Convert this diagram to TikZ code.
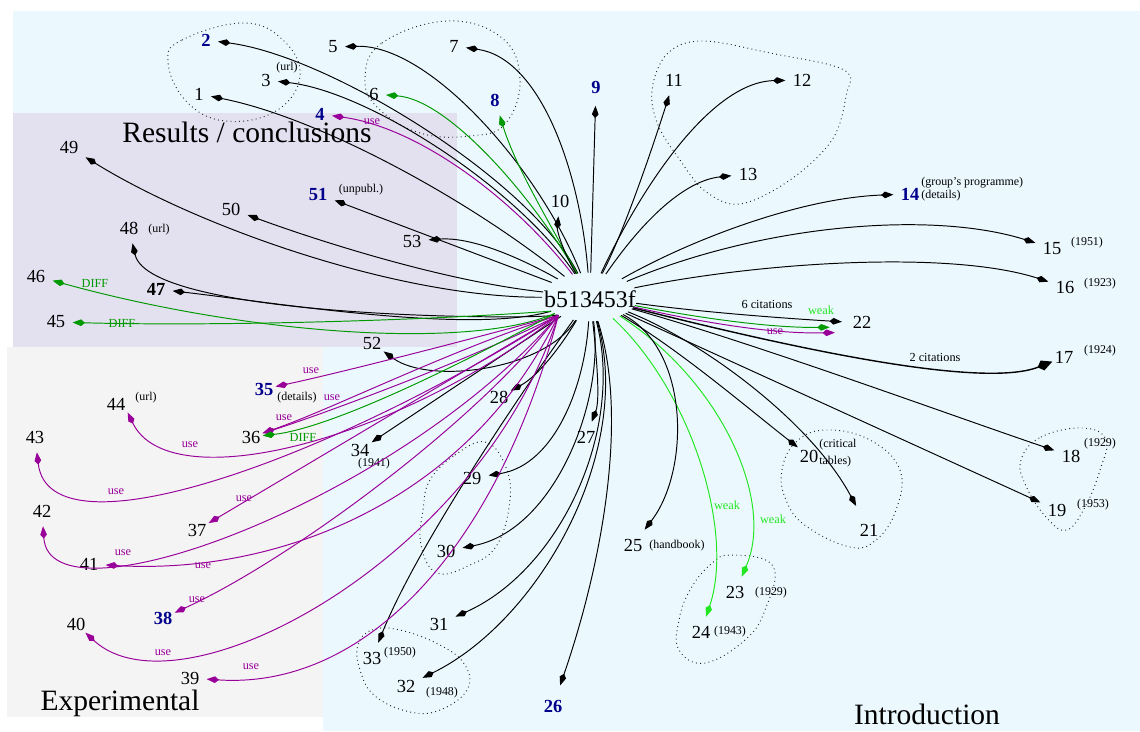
\documentclass[tikz,border=0pt]{standalone}
\usepackage{fontspec}
\setmainfont{Liberation Serif}
\usetikzlibrary{arrows.meta,shapes.geometric}
\definecolor{bgcyan}{HTML}{EBF9FF}
\definecolor{bglav}{HTML}{E3E0F0}
\definecolor{bggray}{HTML}{F4F4F4}
\definecolor{keyblue}{HTML}{00008B}
\definecolor{usepurple}{HTML}{990099}
\definecolor{diffgreen}{HTML}{009A00}
\definecolor{weakgreen}{HTML}{22E622}
\tikzset{
  num/.style={font=\fontsize{10.5}{12}\selectfont, inner xsep=4pt, inner ysep=5pt},
  key/.style={num, font=\fontsize{10.5}{12}\selectfont\bfseries, text=keyblue},
  tight/.style={inner sep=1.2pt},
  note/.style={font=\fontsize{6.8}{8}\selectfont, inner sep=0pt},
  elab/.style={font=\fontsize{7}{8}\selectfont, inner sep=0pt},
  regiontitle/.style={font=\fontsize{16.8}{20}\selectfont, inner sep=0pt},
  cluster/.style={draw=black!85, line width=0.55pt, dash pattern=on 0.5pt off 1.9pt},
  edge/.style={line width=0.55pt, -{Kite[length=7pt,width=3.8pt,inset=2.2pt]}},
  eblack/.style={edge, draw=black},
  euse/.style={edge, draw=usepurple},
  ediff/.style={edge, draw=diffgreen},
  eweak/.style={edge, draw=weakgreen},
}
\begin{document}
\begin{tikzpicture}[x=0.02cm, y=-0.02cm]
\useasboundingbox (0,0) rectangle (1140,731);

% cluster backgrounds
\fill[bgcyan] (13,11) -- (1140,11) -- (1140,731) -- (323,731) -- (323,347) -- (13,347) -- cycle;
\fill[bglav] (13,113) rectangle (457,347);
\fill[bggray] (7,347) rectangle (323,717);

% region titles
\node[regiontitle] (tres) at (247,132) {Results / conclusions};
\node[regiontitle] (texp) at (120,703) {Experimental};
\node[regiontitle] (tintro) at (927,714) {Introduction};

% dotted groupings
\draw[cluster] plot[smooth cycle, tension=0.7] coordinates {(168,62) (182,40) (243,23) (283,40) (300,76) (276,111) (225,121) (186,101)};
\draw[cluster] plot[smooth cycle, tension=0.7] coordinates {(365,78) (382,43) (447,21) (502,38) (520,80) (505,124) (470,136) (420,133) (378,108)};
\draw[cluster] plot[smooth cycle, tension=0.6] coordinates {(652,90) (667,54) (702,41) (770,53) (844,70) (846,96) (832,140) (790,180) (740,204) (705,191) (680,160) (658,125)};
\draw[cluster] plot[smooth cycle, tension=0.7] coordinates {(782,470) (796,442) (826,430) (870,440) (900,470) (896,510) (876,540) (850,547) (806,526) (786,500)};
\draw[cluster] plot[smooth cycle, tension=0.7] coordinates {(1021,460) (1041,437) (1083,428) (1106,440) (1100,470) (1086,505) (1067,530) (1046,517) (1026,486)};
\draw[cluster] plot[smooth cycle, tension=0.7] coordinates {(690,590) (710,565) (731,555) (773,566) (765,610) (745,640) (705,663) (679,650) (679,620)};
\draw[cluster] plot[smooth cycle, tension=0.7] coordinates {(430,480) (455,455) (485,442) (505,465) (510,500) (497,545) (470,565) (437,573) (421,545) (423,510)};
\draw[cluster] plot[smooth cycle, tension=0.7] coordinates {(358,645) (372,630) (400,630) (440,645) (465,665) (467,690) (440,710) (410,712) (375,696) (360,670)};

% central paper
\node[ellipse, minimum width=1.9cm, minimum height=0.96cm, inner sep=0pt] (c) at (590,297) {};
\node[font=\fontsize{13.6}{15}\selectfont, inner sep=0pt] (ctext) at (590,299) {b513453f};

% cited works
\node[num] (n1) at (199,94) {1};
\node[key] (n2) at (206,40) {2};
\node[num] (n3) at (266,80) {3};
\node[key] (n4) at (320,114) {4};
\node[num] (n5) at (333,47) {5};
\node[num] (n6) at (374,94) {6};
\node[num] (n7) at (454,46) {7};
\node[key] (n8) at (495,100) {8};
\node[key, inner ysep=7pt] (n9) at (596,87) {9};
\node[num] (n10) at (560,201) {10};
\node[num] (n11) at (674,80) {11};
\node[num] (n12) at (802,80) {12};
\node[num] (n13) at (748,174) {13};
\node[key] (n14) at (910,194) {14};
\node[num] (n15) at (1052,248) {15};
\node[num] (n16) at (1065,287) {16};
\node[num, tight] (n17) at (1064,357) {17};
\node[num] (n18) at (1071,456) {18};
\node[num] (n19) at (1057,510) {19};
\node[num, tight] (n20) at (809,456) {20};
\node[num, inner ysep=10pt] (n21) at (869,530) {21};
\node[num] (n22) at (862,322) {22};
\node[num] (n23) at (735,592) {23};
\node[num] (n24) at (701,632) {24};
\node[num] (n25) at (633,545) {25};
\node[key, inner ysep=8pt] (n26) at (553,706) {26};
\node[num] (n27) at (586,437) {27};
\node[num, tight] (n28) at (499,397) {28};
\node[num] (n29) at (472,478) {29};
\node[num] (n30) at (446,551) {30};
\node[num] (n31) at (439,624) {31};
\node[num] (n32) at (406,686) {32};
\node[num] (n33) at (372,658) {33};
\node[num, tight] (n34) at (360,450) {34};
\node[key, tight] (n35) at (264,389) {35};
\node[num, tight] (n36) at (251,437) {36};
\node[num, tight] (n37) at (197,530) {37};
\node[key, tight] (n38) at (163,618) {38};
\node[num] (n39) at (190,678) {39};
\node[num, tight] (n40) at (76,624) {40};
\node[num] (n41) at (89,564) {41};
\node[num] (n42) at (42,511) {42};
\node[num] (n43) at (35,437) {43};
\node[num, tight] (n44) at (116,404) {44};
\node[num] (n45) at (56,322) {45};
\node[num] (n46) at (36,276) {46};
\node[num, font=\fontsize{10.5}{12}\selectfont\bfseries] (n47) at (156,289) {47};
\node[num] (n48) at (129,228) {48};
\node[num] (n49) at (69,147) {49};
\node[num] (n50) at (231,209) {50};
\node[key] (n51) at (318,194) {51};
\node[num, tight] (n52) at (372,343) {52};
\node[num] (n53) at (412,241) {53};

% notes beside the works
\node[note] (a3) at (287,68) {(url)};
\node[note] (a51) at (361,190) {(unpubl.)};
\node[note] (a48) at (159,230) {(url)};
\node[note] (a44) at (146,398) {(url)};
\node[note, anchor=west] (a14a) at (921,183) {(group's programme)};
\node[note, anchor=west] (a14b) at (921,196) {(details)};
\node[note] (a15) at (1087,243) {(1951)};
\node[note] (a16) at (1100,284) {(1923)};
\node[note] (a17) at (1100,351) {(1924)};
\node[note] (a18) at (1100,444) {(1929)};
\node[note] (a19) at (1093,505) {(1953)};
\node[note, anchor=west] (a20a) at (819,445) {(critical};
\node[note, anchor=west] (a20b) at (819,462) {tables)};
\node[note] (a23) at (771,593) {(1929)};
\node[note] (a24) at (730,632) {(1943)};
\node[note] (a25) at (677,546) {(handbook)};
\node[note] (a33) at (400,653) {(1950)};
\node[note] (a32) at (442,693) {(1948)};
\node[note] (a34) at (374,464) {(1941)};
\node[note] (a35) at (297,398) {(details)};

% citations: upper part
\draw[eblack] (c) .. controls (530,180) and (330,56) .. (n2);
\draw[eblack] (c) .. controls (540,170) and (430,44) .. (n5);
\draw[eblack] (c) .. controls (520,190) and (370,92) .. (n3);
\draw[eblack] (c) .. controls (470,200) and (320,118) .. (n1);
\draw[eblack] (c) .. controls (580,170) and (540,58) .. (n7);
\draw[ediff] (c) .. controls (535,200) and (450,100) .. (n6);
\draw[euse] (c) .. controls (515,200) and (420,128) .. (n4);
\draw[ediff] (c) .. controls (545,215) and (515,165) .. (n8);
\draw[eblack] (c) -- (n9);
\draw[eblack] (c) .. controls (562,250) and (557,230) .. (n10);
\draw[eblack] (c) .. controls (625,230) and (655,140) .. (n11);
\draw[eblack] (c) .. controls (640,190) and (710,82) .. (n12);
\draw[eblack] (c) .. controls (650,210) and (690,180) .. (n13);
\draw[eblack] (c) .. controls (690,240) and (800,198) .. (n14);
\draw[eblack] (c) .. controls (760,225) and (930,210) .. (n15);
\draw[eblack] (c) .. controls (760,262) and (950,250) .. (n16);

% citations: right side
\draw[eblack, shorten >=2pt] (c) .. controls (700,312) and (780,318) .. (n22.180);
\draw[ediff, shorten >=9pt] (c) .. controls (700,318) and (770,328) .. (n22.197);
\draw[euse, shorten >=6pt] (c) .. controls (700,322) and (770,334) .. (n22.212);
\draw[eblack, line width=0.8pt, -{Kite[length=9pt,width=6pt,inset=3pt]}] (c) .. controls (780,345) and (980,390) .. (n17);
\draw[eblack] (c) .. controls (760,345) and (950,415) .. (n18);
\draw[eblack] (c) -- (n19);
\draw[eblack] (c) .. controls (680,350) and (750,410) .. (n20);
\draw[eblack] (c) .. controls (700,340) and (810,420) .. (n21);
\draw[eweak] (c) .. controls (720,380) and (775,500) .. (n23);
\draw[eweak] (c) .. controls (690,390) and (735,530) .. (n24);

% citations: lower part
\draw[eblack] (c) .. controls (690,350) and (690,470) .. (n25);
\draw[eblack] (c) .. controls (630,420) and (600,570) .. (n26);
\draw[eblack] (c) .. controls (597,360) and (600,400) .. (n27);
\draw[eblack] (c) .. controls (565,340) and (540,375) .. (n28);
\draw[eblack] (c) .. controls (585,385) and (555,465) .. (n29);
\draw[eblack] (c) .. controls (605,400) and (555,530) .. (n30);
\draw[eblack] (c) .. controls (625,430) and (560,570) .. (n31);
\draw[eblack] (c) .. controls (635,450) and (540,620) .. (n32);
\draw[eblack] (c) .. controls (530,380) and (420,540) .. (n33);
\draw[eblack] (c) -- (n34);
\draw[eblack] (c) .. controls (545,370) and (430,385) .. (n52);

% citations: left part
\draw[eblack] (c) .. controls (515,255) and (470,237) .. (n53);
\draw[eblack] (c) -- (n51);
\draw[eblack] (c) .. controls (450,282) and (330,245) .. (n50);
\draw[eblack] (c) .. controls (400,298) and (200,228) .. (n49);
\draw[eblack] (c) .. controls (548,320) and (150,320) .. (n48);
\draw[eblack] (c.200) .. controls (470,335) and (270,302) .. (n47);
\draw[ediff] (c.205) .. controls (470,350) and (250,335) .. (n46);
\draw[ediff] (c.200) .. controls (400,322) and (200,326) .. (n45);

% methods used in the experiments
\draw[euse] (c.210) .. controls (450,345) and (330,375) .. (n35);
\draw[euse] (c.210) .. controls (450,350) and (330,410) .. (n36);
\draw[euse] (c.210) .. controls (470,360) and (320,415) .. (n36);
\draw[ediff] (c.205) .. controls (450,370) and (330,428) .. (n36);
\draw[euse] (c.210) .. controls (400,440) and (170,500) .. (n44.south east);
\draw[euse] (c.210) .. controls (330,460) and (50,560) .. (n43);
\draw[euse] (c.210) -- (n37);
\draw[euse] (c.210) .. controls (400,500) and (50,630) .. (n42);
\draw[euse] (c.210) .. controls (470,500) and (280,575) .. (n41);
\draw[euse] (c.210) .. controls (480,420) and (290,560) .. (n38);
\draw[euse] (c.210) .. controls (480,560) and (180,720) .. (n40);
\draw[euse] (c.210) .. controls (500,540) and (370,690) .. (n39);

% connector labels
\node[elab, text=usepurple] (u4) at (372,122) {use};
\node[elab, text=diffgreen] (d46) at (95,283) {DIFF};
\node[elab, text=diffgreen] (d45) at (122,323) {DIFF};
\node[elab] (k22) at (767,304) {6 citations};
\node[elab, text=weakgreen] (w22) at (821,310) {weak};
\node[elab, text=usepurple] (u22) at (775,332) {use};
\node[elab] (k17) at (935,357) {2 citations};
\node[elab, text=weakgreen] (w24) at (727,505) {weak};
\node[elab, text=weakgreen] (w23) at (773,519) {weak};
\node[elab, text=usepurple] (u35) at (311,371) {use};
\node[elab, text=usepurple] (u36a) at (332,398) {use};
\node[elab, text=usepurple] (u36b) at (284,418) {use};
\node[elab, text=diffgreen] (d36) at (303,437) {DIFF};
\node[elab, text=usepurple] (u44) at (190,445) {use};
\node[elab, text=usepurple] (u43) at (116,492) {use};
\node[elab, text=usepurple] (u37) at (244,499) {use};
\node[elab, text=usepurple] (u42) at (123,553) {use};
\node[elab, text=usepurple] (u41) at (203,566) {use};
\node[elab, text=usepurple] (u38) at (197,600) {use};
\node[elab, text=usepurple] (u40) at (163,653) {use};
\node[elab, text=usepurple] (u39) at (251,667) {use};
\end{tikzpicture}
\end{document}
